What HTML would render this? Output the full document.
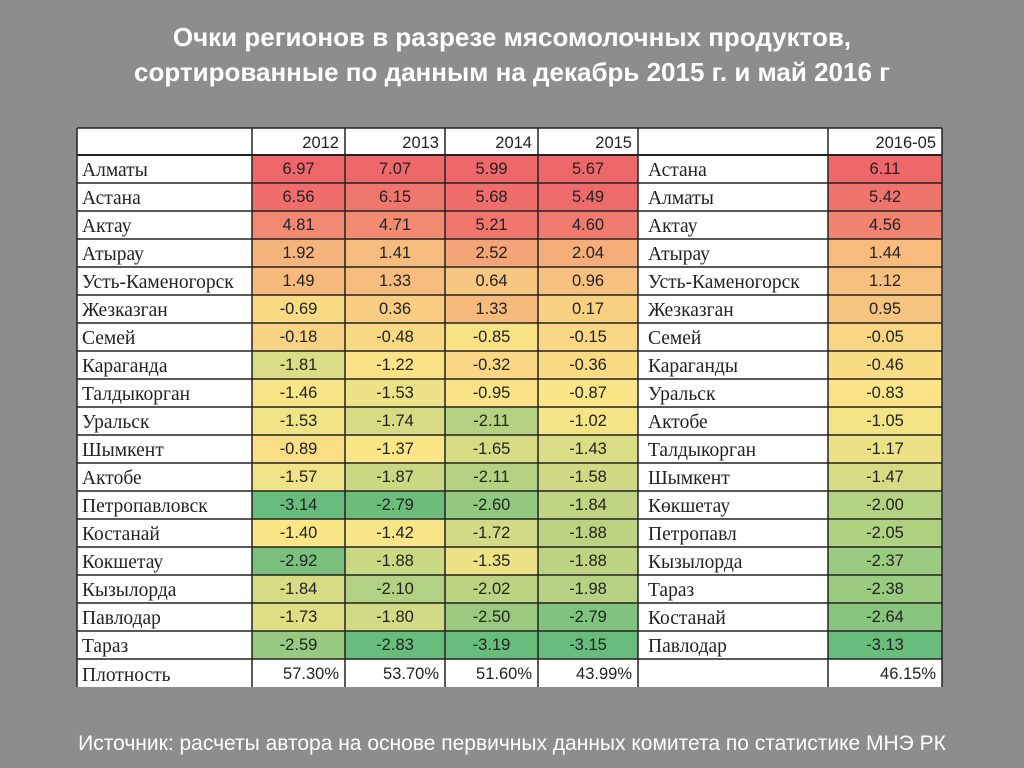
<!DOCTYPE html>
<html><head><meta charset="utf-8">
<style>
body{margin:0;width:1024px;height:768px;background:#8d8d8d;position:relative;overflow:hidden;font-family:"Liberation Sans",sans-serif}
.title{position:absolute;left:0;width:1024px;text-align:center;color:#fff;font-weight:bold;font-size:26px}
#tbl{position:absolute;left:0;top:0}
.src{position:absolute;left:0;width:1024px;top:732px;text-align:center;color:#fff;font-size:21px}
</style></head><body>
<div class="title" style="top:22px">Очки регионов в разрезе мясомолочных продуктов,</div>
<div class="title" style="top:57px">сортированные по данным на декабрь 2015 г. и май 2016 г</div>
<svg id="tbl" width="1024" height="768"></svg>
<div class="src">Источник: расчеты автора на основе первичных данных комитета по статистике МНЭ РК</div>
<script>
const years=["2012","2013","2014","2015"];
const regions=["Алматы","Астана","Актау","Атырау","Усть-Каменогорск","Жезказган","Семей","Караганда","Талдыкорган","Уральск","Шымкент","Актобе","Петропавловск","Костанай","Кокшетау","Кызылорда","Павлодар","Тараз"];
const v2012=[6.97,6.56,4.81,1.92,1.49,-0.69,-0.18,-1.81,-1.46,-1.53,-0.89,-1.57,-3.14,-1.40,-2.92,-1.84,-1.73,-2.59];
const v2013=[7.07,6.15,4.71,1.41,1.33,0.36,-0.48,-1.22,-1.53,-1.74,-1.37,-1.87,-2.79,-1.42,-1.88,-2.10,-1.80,-2.83];
const v2014=[5.99,5.68,5.21,2.52,0.64,1.33,-0.85,-0.32,-0.95,-2.11,-1.65,-2.11,-2.60,-1.72,-1.35,-2.02,-2.50,-3.19];
const v2015=[5.67,5.49,4.60,2.04,0.96,0.17,-0.15,-0.36,-0.87,-1.02,-1.43,-1.58,-1.84,-1.88,-1.88,-1.98,-2.79,-3.15];
const density=["57.30%","53.70%","51.60%","43.99%"];
const regions2016=["Астана","Алматы","Актау","Атырау","Усть-Каменогорск","Жезказган","Семей","Караганды","Уральск","Актобе","Талдыкорган","Шымкент","Көкшетау","Петропавл","Кызылорда","Тараз","Костанай","Павлодар"];
const v2016=[6.11,5.42,4.56,1.44,1.12,0.95,-0.05,-0.46,-0.83,-1.05,-1.17,-1.47,-2.00,-2.05,-2.37,-2.38,-2.64,-3.13];
const density2016="46.15%";

const NS="http://www.w3.org/2000/svg",svg=document.getElementById('tbl');
const xs=[77,252,345,445,538,638,828,942];
const top0=128,hh=27,rh=28,n=regions.length,bot=top0+hh+rh*(n+1);
function mk(t,a,p){const e=document.createElementNS(NS,t);for(const k in a)e.setAttribute(k,a[k]);(p||svg).appendChild(e);return e;}
function rowY(i){return top0+hh+i*rh;}
function lerp(a,b,t){return a.map((c,i)=>Math.round(c+(b[i]-c)*t));}
const G=[104,188,124],Y=[250,230,135],R=[238,104,106];
function scale(arr){const s=[...arr].sort((a,b)=>a-b),mn=s[0],mx=s[s.length-1],m=s.length%2?s[(s.length-1)/2]:(s[s.length/2-1]+s[s.length/2])/2;
 return v=>{let c=v<=m?lerp(G,Y,(v-mn)/(m-mn||1)):lerp(Y,R,(v-m)/(mx-m||1));return `rgb(${c})`;};}
const bg=mk('rect',{x:xs[0],y:top0,width:xs[7]-xs[0],height:bot-top0,fill:'#fff'});


function cellText(x,y,txt,anchor,serif,name){const t=mk('text',{x:x,y:y,'text-anchor':anchor,'font-size':serif?19.5:16.5,'font-family':serif?'"Liberation Serif",serif':'"Liberation Sans",sans-serif',fill:'#222'});t.textContent=txt;
 
 }
const cols=[v2012,v2013,v2014,v2015];
years.forEach((y,j)=>cellText(xs[j+2]-6,top0+20,y,'end',false,'header-'+y));
cellText(xs[7]-6,top0+20,"2016-05",'end',false,'header-2016-05');
function drawCol(vals,ci,tag){const sc=scale(vals);vals.forEach((v,i)=>{
 const r=mk('rect',{x:xs[ci],y:rowY(i),width:xs[ci+1]-xs[ci],height:rh,fill:sc(v)});
 
 
 cellText((xs[ci]+xs[ci+1])/2,rowY(i)+19,v.toFixed(2),'middle',false,'value-'+tag+'-'+i);});}
cols.forEach((c,j)=>drawCol(c,j+1,years[j]));
drawCol(v2016,6,'2016');
regions.forEach((r,i)=>cellText(xs[0]+5,rowY(i)+21,r,'start',true,'region-label'));
regions2016.forEach((r,i)=>cellText(xs[5]+10,rowY(i)+21,r,'start',true,'region-2016-label'));
cellText(xs[0]+5,rowY(n)+22,"Плотность",'start',true,'density-label');
density.forEach((d,j)=>cellText(xs[j+2]-6,rowY(n)+20,d,'end',false,'density-'+years[j]));
cellText(xs[7]-6,rowY(n)+20,density2016,'end',false,'density-2016');
for(let i=0;i<=n+1;i++){const y=i==0?top0:rowY(i-1);const l=mk('line',{x1:xs[0],x2:xs[7],y1:y,y2:y,stroke:'#222','stroke-width':i==1?2:1.5});
 
 }
xs.forEach(x=>{const l=mk('line',{x1:x,x2:x,y1:top0,y2:bot,stroke:'#222','stroke-width':1.5});
 
 });
</script>
</body></html>
